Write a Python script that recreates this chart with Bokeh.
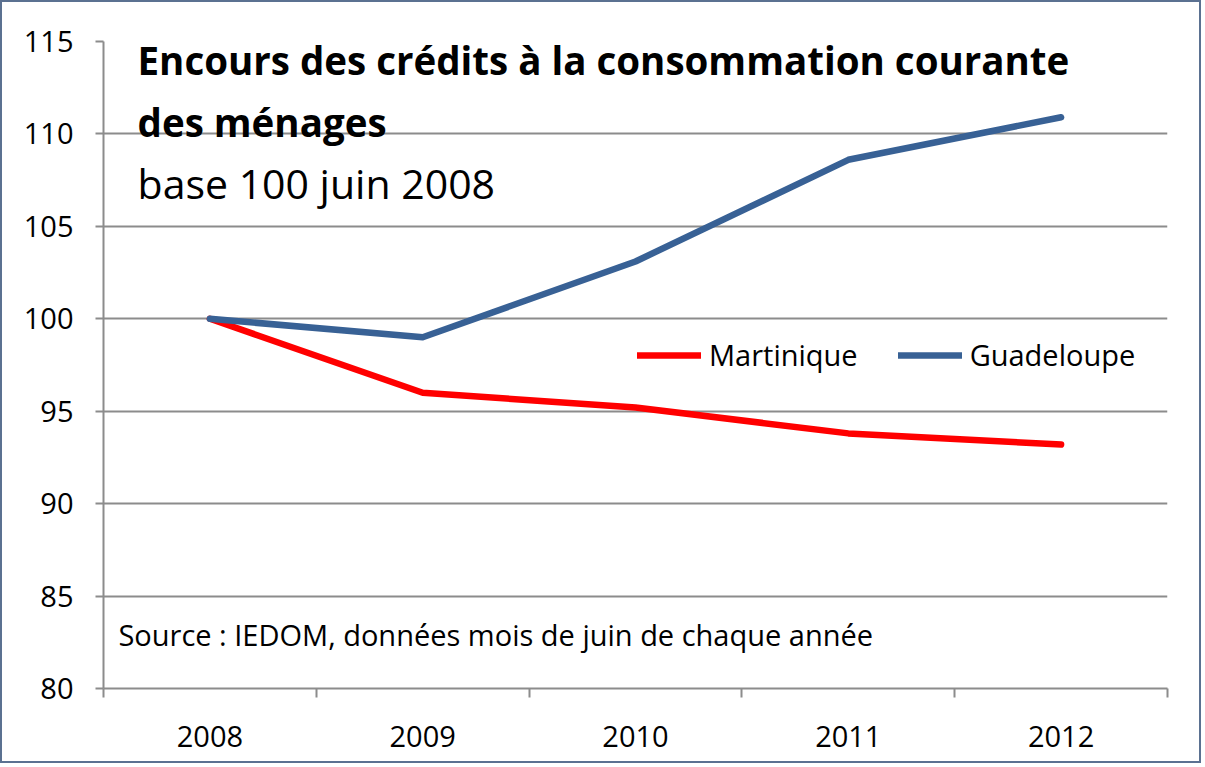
from bokeh.plotting import figure
from bokeh.models import (FactorRange, Range1d, Legend, LegendItem, Label,
                          LinearAxis, CategoricalAxis, FixedTicker)
from bokeh.embed import file_html
from bokeh.resources import INLINE

years = ["2008", "2009", "2010", "2011", "2012"]
martinique = [100.0, 96.0, 95.2, 93.8, 93.2]
guadeloupe = [100.0, 99.0, 103.1, 108.6, 110.9]
y_ticks = [80, 85, 90, 95, 100, 105, 110, 115]
boundary_ticks = [0, 1, 2, 3, 4, 5]

title_1 = "Encours des crédits à la consommation courante"
title_2 = "des ménages"
subtitle = "base 100 juin 2008"
source = "Source : IEDOM, données mois de juin de chaque année"

FONT = "Open Sans"
GRID = "#8c8c8c"

p = figure(x_range=FactorRange(*years), y_range=Range1d(80, 115),
           width=1201, height=763, output_backend="svg", toolbar_location=None,
           x_axis_location=None, min_border_left=101, min_border_right=36,
           min_border_top=39, min_border_bottom=77)
p.styles = {"border": "2px solid #5b7191"}
p.outline_line_color = None
p.background_fill_color = "white"
p.border_fill_color = "white"

# y axis
p.yaxis.ticker = FixedTicker(ticks=y_ticks)
p.yaxis.axis_line_color = GRID
p.yaxis.axis_line_width = 2
p.yaxis.major_tick_line_color = GRID
p.yaxis.major_tick_line_width = 2
p.yaxis.major_tick_out = 8
p.yaxis.major_tick_in = 0
p.yaxis.minor_tick_line_color = None
p.yaxis.major_label_text_font = FONT
p.yaxis.major_label_text_font_size = "29px"
p.yaxis.major_label_text_color = "black"
p.yaxis.major_label_standoff = 22

p.xgrid.grid_line_color = None
p.ygrid.ticker = FixedTicker(ticks=y_ticks)
p.ygrid.grid_line_color = GRID
p.ygrid.grid_line_width = 2

# x axis: boundary ticks
bx = LinearAxis(ticker=FixedTicker(ticks=boundary_ticks))
bx.axis_line_color = GRID
bx.axis_line_width = 2
bx.major_tick_line_color = GRID
bx.major_tick_line_width = 2
bx.major_tick_out = 9
bx.major_tick_in = 0
bx.minor_tick_line_color = None
bx.major_label_text_font_size = "1px"
bx.major_label_text_alpha = 0
bx.major_label_standoff = 0
p.add_layout(bx, "below")

cx = CategoricalAxis()
cx.axis_line_color = None
cx.major_tick_line_color = None
cx.minor_tick_line_color = None
cx.major_label_text_font = FONT
cx.major_label_text_font_size = "29px"
cx.major_label_text_color = "black"
cx.major_label_standoff = 22
p.add_layout(cx, "below")

r_m = p.line(years, martinique, line_color="#ff0000", line_width=6.5,
             line_cap="round", line_join="round")
r_g = p.line(years, guadeloupe, line_color="#386195", line_width=6.5,
             line_cap="round", line_join="round")

legend = Legend(items=[LegendItem(label="Martinique", renderers=[r_m]),
                       LegendItem(label="Guadeloupe", renderers=[r_g])],
                orientation="horizontal", location=(534, 314),
                glyph_width=64, glyph_height=30, label_standoff=8, spacing=40,
                padding=0, margin=0, border_line_color=None,
                background_fill_alpha=0,
                label_text_font=FONT, label_text_font_size="29px",
                label_text_color="black")
p.add_layout(legend, "center")

p.add_layout(Label(x=0.16, y=114.0, text=title_1, text_font=FONT,
                   text_font_style="bold", text_font_size="38.5px",
                   text_color="black", text_baseline="alphabetic"))
p.add_layout(Label(x=0.16, y=110.65, text=title_2, text_font=FONT,
                   text_font_style="bold", text_font_size="38.5px",
                   text_color="black", text_baseline="alphabetic"))
p.add_layout(Label(x=0.16, y=107.35, text=subtitle, text_font=FONT,
                   text_font_size="41px",
                   text_color="black", text_baseline="alphabetic"))
p.add_layout(Label(x=0.07, y=82.9, text=source, text_font=FONT,
                   text_font_size="29px",
                   text_color="black", text_baseline="alphabetic"))

open("out.html", "w").write(file_html(p, INLINE))
